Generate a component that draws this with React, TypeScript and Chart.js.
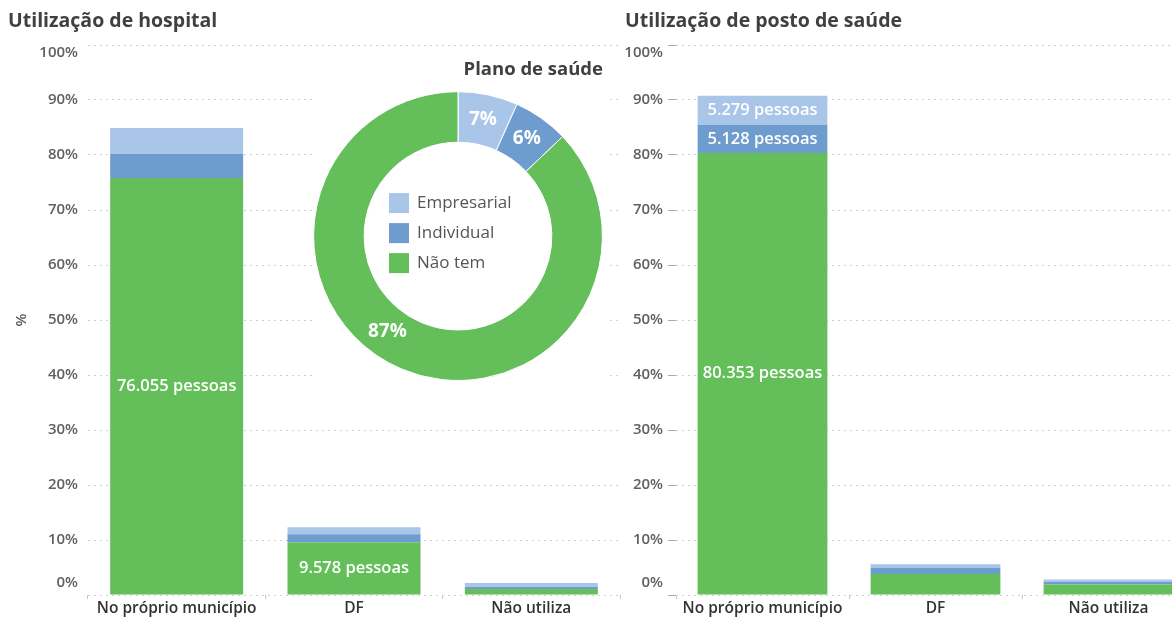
import React, { useEffect, useRef } from 'react';
import { Chart, registerables } from 'chart.js';

Chart.register(...registerables);

// ---------- data ----------
const categories = ['No próprio município', 'DF', 'Não utiliza'];
const planLabels = ['Empresarial', 'Individual', 'Não tem'];

// Utilização de hospital (% of population)
const hospitalNaoTem = [75.8, 9.58, 1.1];
const hospitalIndividual = [4.36, 1.45, 0.4];
const hospitalEmpresarial = [4.73, 1.27, 0.7];
const hospitalNaoTemLabels = ['76.055 pessoas', '9.578 pessoas', ''];

// Utilização de posto de saúde (% of population)
const postoNaoTem = [80.35, 3.8, 1.9];
const postoIndividual = [5.13, 1.1, 0.5];
const postoEmpresarial = [5.28, 0.7, 0.4];
const postoNaoTemLabels = ['80.353 pessoas', '', ''];
const postoIndividualLabels = ['5.128 pessoas', '', ''];
const postoEmpresarialLabels = ['5.279 pessoas', '', ''];

// Plano de saúde (share, %)
const planShare = [6.7, 6.2, 87.1];
const planShareLabels = ['7%', '6%', '87%'];

// ---------- style ----------
const FONT = '"Open Sans", "Noto Sans", sans-serif';
const C_EMP = '#A9C5E8';
const C_IND = '#6F9CCF';
const C_NAO = '#64BF5B';
const GRID = '#c8c8c8';
const TICK_COLOR = '#606060';

const barLabelPlugin = {
  id: 'barLabels',
  afterDatasetsDraw(chart: any) {
    const ctx = chart.ctx;
    chart.data.datasets.forEach((ds: any, di: number) => {
      const labels: string[] | undefined = ds.segmentLabels;
      if (!labels) return;
      const meta = chart.getDatasetMeta(di);
      meta.data.forEach((el: any, i: number) => {
        const t = labels[i];
        if (!t) return;
        const p = el.getProps(['x', 'y', 'base'], true);
        ctx.save();
        ctx.fillStyle = '#ffffff';
        ctx.font = `600 16.5px ${FONT}`;
        ctx.textAlign = 'center';
        ctx.textBaseline = 'middle';
        ctx.fillText(t, p.x, (p.y + p.base) / 2);
        ctx.restore();
      });
    });
  },
  // end ticks (0% and 100%) sit slightly inside the axis range, as in the source
  afterDraw(chart: any) {
    const y = chart.scales.y;
    const ctx = chart.ctx;
    const right = chart.chartArea.left - (chart.options.scales.y.grid.drawTicks ? 8 : 0) - chart.options.scales.y.ticks.padding;
    ctx.save();
    ctx.fillStyle = TICK_COLOR;
    ctx.font = `600 15px ${FONT}`;
    ctx.textAlign = 'right';
    ctx.textBaseline = 'middle';
    ctx.fillText('100%', right, y.getPixelForValue(100) + 8);
    ctx.fillText('0%', right, y.getPixelForValue(0) - 12);
    ctx.restore();
  },
};

const donutPlugin = {
  id: 'donutExtras',
  afterDatasetsDraw(chart: any) {
    const ctx = chart.ctx;
    const meta = chart.getDatasetMeta(0);
    const anchors = [0.5, 0.5, 0.542];
    meta.data.forEach((arc: any, i: number) => {
      const p = arc.getProps(['x', 'y', 'startAngle', 'endAngle', 'innerRadius', 'outerRadius'], true);
      const a = p.startAngle + (p.endAngle - p.startAngle) * anchors[i];
      const r = (p.innerRadius + p.outerRadius) / 2;
      ctx.save();
      ctx.fillStyle = '#ffffff';
      ctx.font = `bold 19px ${FONT}`;
      ctx.textAlign = 'center';
      ctx.textBaseline = 'middle';
      ctx.fillText(planShareLabels[i], p.x + r * Math.cos(a), p.y + r * Math.sin(a));
      ctx.restore();
    });
    const c = meta.data[0];
    const colors = chart.data.datasets[0].backgroundColor;
    chart.data.labels.forEach((l: string, i: number) => {
      const rowY = c.y - 33 + i * 30;
      ctx.save();
      ctx.fillStyle = colors[i];
      ctx.fillRect(c.x - 69, rowY - 10, 20, 20);
      ctx.fillStyle = '#555555';
      ctx.font = `17px ${FONT}`;
      ctx.textAlign = 'left';
      ctx.textBaseline = 'middle';
      ctx.fillText(l, c.x - 41, rowY);
      ctx.restore();
    });
  },
};

function barOptions(title: string, leftAxis: boolean) {
  return {
    responsive: false,
    animation: false,
    layout: { padding: { left: leftAxis ? 8 : 5, right: 5, top: 0, bottom: 0 } },
    plugins: {
      legend: { display: false },
      tooltip: { enabled: false },
      title: {
        display: true,
        text: title,
        align: 'start',
        color: '#404040',
        font: { family: FONT, size: 19.5, weight: 'bold' },
        padding: { top: 10, bottom: 11.6 },
      },
    },
    scales: {
      x: {
        stacked: true,
        grid: {
          display: true,
          drawOnChartArea: false,
          drawTicks: true,
          tickLength: 4,
          offset: true,
          color: GRID,
          tickColor: GRID,
          tickBorderDash: [],
        },
        border: { display: false },
        ticks: { color: '#333333', font: { family: FONT, size: 15.5, weight: '600' }, padding: 0 },
        afterFit: (s: any) => {
          s.height = 22;
        },
      },
      y: {
        stacked: true,
        min: 0,
        max: 100,
        ticks: {
          stepSize: 10,
          callback: (v: any) => `${v}%`,
          color: (c: any) =>
            c.tick && (c.tick.value === 0 || c.tick.value === 100) ? 'rgba(0,0,0,0)' : TICK_COLOR,
          font: { family: FONT, size: 15, weight: '600' },
          padding: leftAxis ? 10 : 5,
        },
        grid: {
          color: '#cfcfcf',
          lineWidth: 1,
          drawTicks: !leftAxis,
          tickLength: 8,
          tickColor: '#aaaaaa',
          tickBorderDash: [],
        },
        border: { display: false, dash: [2, 4] },
        title: {
          display: leftAxis,
          text: '%',
          color: '#555555',
          font: { family: FONT, size: 15, weight: '600' },
          padding: { top: 5, bottom: 0 },
        },
        afterFit: (s: any) => {
          s.width = leftAxis ? 80 : 51;
        },
      },
    },
  };
}

function barDatasets(
  nao: number[],
  ind: number[],
  emp: number[],
  naoL?: string[],
  indL?: string[],
  empL?: string[]
) {
  const common = { categoryPercentage: 0.75, barPercentage: 1.0, borderWidth: 0 };
  return [
    { label: planLabels[2], data: nao, backgroundColor: C_NAO, segmentLabels: naoL, ...common },
    { label: planLabels[1], data: ind, backgroundColor: C_IND, segmentLabels: indL, ...common },
    { label: planLabels[0], data: emp, backgroundColor: C_EMP, segmentLabels: empL, ...common },
  ];
}

export default function App() {
  const leftRef = useRef<HTMLCanvasElement>(null);
  const rightRef = useRef<HTMLCanvasElement>(null);
  const donutRef = useRef<HTMLCanvasElement>(null);

  useEffect(() => {
    const left = new Chart(leftRef.current as HTMLCanvasElement, {
      type: 'bar',
      data: {
        labels: categories,
        datasets: barDatasets(hospitalNaoTem, hospitalIndividual, hospitalEmpresarial, hospitalNaoTemLabels) as any,
      },
      options: barOptions('Utilização de hospital', true) as any,
      plugins: [barLabelPlugin],
    });
    const right = new Chart(rightRef.current as HTMLCanvasElement, {
      type: 'bar',
      data: {
        labels: categories,
        datasets: barDatasets(
          postoNaoTem,
          postoIndividual,
          postoEmpresarial,
          postoNaoTemLabels,
          postoIndividualLabels,
          postoEmpresarialLabels
        ) as any,
      },
      options: barOptions('Utilização de posto de saúde', false) as any,
      plugins: [barLabelPlugin],
    });
    const donut = new Chart(donutRef.current as HTMLCanvasElement, {
      type: 'doughnut',
      data: {
        labels: planLabels,
        datasets: [
          {
            data: planShare,
            backgroundColor: [C_EMP, C_IND, C_NAO],
            borderColor: '#ffffff',
            borderWidth: 1,
          },
        ],
      },
      options: {
        responsive: false,
        animation: false,
        cutout: '65%',
        layout: { padding: { left: 1, right: 3, top: 0, bottom: 3 } },
        plugins: {
          legend: { display: false },
          tooltip: { enabled: false },
          title: {
            display: true,
            text: 'Plano de saúde',
            align: 'end',
            color: '#404040',
            font: { family: FONT, size: 18.5, weight: 'bold' },
            padding: { top: 7, bottom: 10 },
          },
        },
      } as any,
      plugins: [donutPlugin],
    });
    return () => {
      left.destroy();
      right.destroy();
      donut.destroy();
    };
  }, []);

  return (
    <div
      style={{
        position: 'absolute',
        left: 0,
        top: 0,
        width: 1172,
        height: 617,
        overflow: 'hidden',
        background: '#ffffff',
      }}
    >
      <canvas ref={leftRef} width={625} height={617} style={{ position: 'absolute', left: 0, top: 0 }} />
      <canvas ref={rightRef} width={580} height={617} style={{ position: 'absolute', left: 620, top: 0 }} />
      <canvas
        ref={donutRef}
        width={294}
        height={332}
        style={{ position: 'absolute', left: 312, top: 52, background: '#ffffff' }}
      />
    </div>
  );
}
